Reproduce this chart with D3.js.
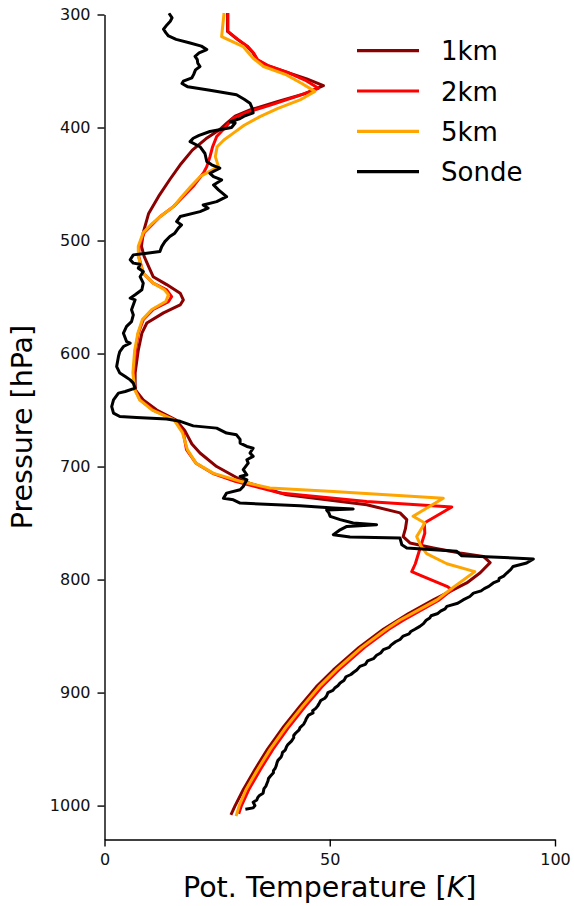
<!DOCTYPE html>
<html>
<head>
<meta charset="utf-8">
<script src="https://cdn.jsdelivr.net/npm/d3@7"></script>
<style>
  body { margin: 0; background: #fff; }
  svg { display: block; font-family: "DejaVu Sans", sans-serif; }
</style>
</head>
<body>
<svg id="chart" width="574" height="906"></svg>
<script>
// Profiles: [pressure (hPa), potential temperature]
const profile1km = [
  [300,27.3],[315,27.3],[322,29.5],[328,31.6],[334,33.0],[340,33.8],[345,36.0],[351,40.4],[357,44.9],[363,48.6],
  [370,44.5],[377,38.5],[384.5,32.3],[390,29.0],[396,27.2],[402,25.5],[410,22.5],[420,19.5],[432,17.0],[446,14.5],
  [461,12.0],[476,9.8],[493,8.6],[505,8.2],[514,8.8],[523,9.8],[532,10.8],[539,13.8],[546.6,16.8],[552.5,17.5],
  [557,16.8],[564,13.1],[573,9.4],[582,8.3],[597,7.5],[617,6.8],[632,6.8],[641,8.6],[650,11.6],[658.6,15.8],
  [668,17.8],[680,19.4],[688,21.2],[700,24.9],[713,30.8],[725,40.4],[733.8,58.2],[741,65.6],[747,67.1],[755,66.8],
  [762,66.3],[767.6,67.8],[772,73.0],[776.5,78.9],[779.5,84.1],[785,85.6],[794,83.4],[803,80.4],[818,73.0],[830,67.5],
  [844,61.9],[860,56.5],[880,50.8],[895,47.0],[912,43.4],[930,39.8],[950,36.2],[968,33.4],[986,30.8],[1000,29.0],[1007,28.2]
];

const profile2km = [
  [300,27.4],[315,27.4],[322,29.6],[328,31.7],[334,33.1],[340,34.0],[345,36.2],[351,40.5],[358,44.5],[365.3,47.5],
  [372,43.0],[380,37.0],[386,32.0],[392,28.5],[400,26.8],[408,24.9],[417,24.0],[426,23.4],[434.6,22.7],[440,22.0],
  [452,19.7],[470,15.3],[479,12.3],[493,8.8],[505,7.7],[514,7.6],[529,8.6],[537.7,10.8],[543.6,13.8],[549.6,14.9],
  [554,14.2],[561,10.8],[570,8.6],[582,7.5],[597,6.9],[617,6.5],[632,6.8],[641,7.9],[650,10.8],[658.6,15.6],
  [670,17.5],[685,18.2],[697,20.3],[706,24.0],[713,29.0],[723.5,39.0],[731,58.2],[735.8,77.1],[750,71.0],[759,71.1],
  [773,70.0],[786,69.0],[793,68.2],[796,70.0],[806,76.0],[809,77.1],[818,74.3],[836,66.3],[844,63.1],[860,57.7],
  [880,52.0],[895,48.2],[912,44.6],[930,41.0],[950,37.4],[968,34.6],[986,32.0],[1000,30.4],[1006,29.9]
];

const profile5km = [
  [300,26.5],[319.6,26.0],[328.5,30.8],[338.7,33.0],[346,35.3],[353.5,40.4],[361,43.8],[368,46.7],[375.6,43.4],[383,38.5],
  [390.4,34.5],[398,31.0],[405,28.6],[411,26.5],[417,25.0],[425.8,24.6],[434.6,25.3],[443.5,21.2],[452,19.2],[462,17.0],
  [470,15.3],[479,12.3],[486,10.3],[493,8.6],[505,7.5],[514,7.5],[529,8.6],[537.7,10.8],[543.6,13.3],[548,14.2],
  [554,13.6],[561,10.5],[570,8.4],[582,7.4],[597,6.7],[617,6.3],[632,6.7],[641,7.8],[650,10.6],[658.6,15.4],
  [670,17.3],[685,18.4],[697,20.3],[706,24.2],[713,30.1],[719,36.7],[722,50.8],[728,75.2],[744,68.5],[750,71.1],
  [762,69.3],[770,70.2],[777,71.5],[786,76.0],[793,82.2],[809,76.7],[818,73.8],[836,65.5],[844,62.5],[860,57.1],
  [880,51.4],[895,47.6],[912,44.0],[930,40.4],[950,36.8],[968,34.0],[986,31.4],[1000,29.9],[1008,29.3]
];

const profileSonde = [
  [300,14.5],[303,15.0],[306,14.6],[309,13.9],[313,13.1],[316,13.6],[319,14.2],[322,15.9],[325,18.8],[328,21.5],
  [331,22.7],[334,21.0],[337,20.1],[340,20.6],[343,20.7],[346,21.2],[349,20.2],[353,19.8],[356,19.4],[359,17.5],
  [361,17.2],[364,18.5],[367,23.4],[371,29.3],[375,31.0],[378.5,32.3],[383,32.8],[387,33.0],[390,31.0],[392,30.1],
  [395,27.9],[396,29.0],[400,28.2],[403.5,23.4],[407,21.0],[409.5,19.7],[412.5,19.0],[417,21.2],[423,22.3],[430,22.7],
  [433,23.8],[436,25.6],[440.5,23.4],[443.5,24.2],[446.4,26.0],[450.8,24.2],[455.2,25.3],[461.2,27.1],[465.6,24.9],[468.5,21.9],
  [471.4,23.0],[474.4,21.2],[478.8,16.8],[483.2,16.0],[486.2,17.1],[489,16.4],[493.5,15.6],[496.5,14.5],[501,13.4],[505.4,12.7],
  [509.8,12.3],[511.2,9.4],[512.7,6.4],[517,5.7],[520,6.4],[521,7.9],[524.5,7.5],[527.5,8.6],[532,7.9],[537.7,8.6],
  [543.6,8.3],[548,6.8],[551,5.7],[552.5,6.8],[561.3,6.0],[565.8,6.4],[571.7,6.0],[576,4.9],[582,4.2],[589.4,4.9],
  [590.8,5.7],[593.8,4.2],[598.2,3.4],[602.6,3.1],[611.5,2.7],[617.3,3.4],[620.3,4.6],[623.3,5.7],[626.2,6.4],[630.6,6.8],
  [633.6,4.6],[635,3.1],[641,2.0],[646.9,1.6],[652.7,2.0],[655.7,3.4],[656.6,7.1],[658,13.8],[660,16.8],[664,19.7],
  [666,24.9],[670.4,27.1],[671.9,29.3],[676,30.1],[679.2,30.1],[682.2,31.6],[683.7,33.0],[688,32.3],[691,33.0],[694,31.6],
  [697,31.9],[702.8,30.8],[707.3,31.6],[708.8,30.1],[711.7,31.6],[717.6,30.8],[720.5,30.1],[723.5,27.1],[728,26.4],[729.4,28.6],
  [732.3,30.1],[734.7,43.4],[736.7,50.8],[737.6,55.2],[738.5,49.3],[741,49.8],[744.1,50.1],[747,52.3],[750,55.2],[751.5,60.4],
  [753,53.8],[756,52.3],[760.3,50.8],[762.4,54.5],[763.3,65.6],[769.2,66.0],[772,67.1],[775,78.2],[779,79.3],[779.5,83.4],
  [781.8,95.2],[785.4,93.7],[788.4,90.7],[791,90.2],[794.2,89.3],[797,88.6],[799,87.6],[801,87.5],[803,86.3],[806,85.3],
  [808,84.3],[810,83.6],[812,81.9],[815,81.1],[818,79.6],[821,78.4],[823.7,76.0],[826,75.6],[828,74.6],[830,74.0],
  [832,72.5],[834,72.2],[836,71.4],[839,70.8],[841.4,70.0],[844,68.9],[846,68.0],[848,67.6],[850,66.3],[853,65.6],
  [855,64.6],[858,63.6],[860,63.2],[862,61.9],[865,61.3],[867,60.4],[870,59.7],[872,58.4],[875,57.9],[876.8,56.7],
  [880,56.0],[882,55.3],[884,54.7],[886,53.6],[889,53.2],[891.5,52.3],[894,51.8],[896,51.1],[898,50.7],[900,49.6],
  [903,49.3],[905,48.9],[907,48.0],[910,47.6],[912,47.3],[914,46.9],[916,46.2],[918,46.3],[920,45.3],[923,44.8],
  [925,44.6],[928,44.2],[931,43.4],[933,43.2],[936,42.4],[938,42.0],[940,42.0],[943,41.5],[946,40.7],[948,40.4],
  [951,40.1],[953,39.5],[955,39.4],[957,39.2],[960,38.5],[962,38.3],[965,38.1],[967,37.9],[969,37.5],[971,37.5],
  [974,36.8],[976,36.4],[978,36.3],[980,36.1],[983,35.8],[985,35.4],[987,35.3],[989,35.2],[991,34.4],[993,34.0],
  [995,33.8],[997,33.0],[1000,33.4],[1002,33.0],[1003,31.6]
];

const seriesNames = ["1km", "2km", "5km", "Sonde"];
const pressureTicks = [300, 400, 500, 600, 700, 800, 900, 1000];
const thetaTicks = [0, 50, 100];

// Styling
const seriesColors = ["#8b0000", "#ff0000", "#ffa500", "#000000"];
const profiles = [profile1km, profile2km, profile5km, profileSonde];

const svg = d3.select("#chart");
const plotLeft = 104.5, plotRight = 555, plotTop = 14.5, plotBottom = 839.5;

const x = d3.scaleLinear().domain([0, 100]).range([plotLeft, plotRight]);
const y = d3.scaleLinear().domain([300, 1030]).range([plotTop, plotBottom]);

svg.append("defs").append("clipPath").attr("id", "plot-clip")
  .append("rect").attr("x", plotLeft).attr("y", plotTop - 2)
  .attr("width", plotRight - plotLeft + 10).attr("height", plotBottom - plotTop + 2);

const line = d3.line().x(d => x(d[1])).y(d => y(d[0]));

const plot = svg.append("g").attr("clip-path", "url(#plot-clip)");
profiles.forEach((data, i) => {
  plot.append("path")
    .datum(data)
    .attr("fill", "none")
    .attr("stroke", seriesColors[i])
    .attr("stroke-width", 3)
    .attr("stroke-linejoin", "round")
    .attr("stroke-linecap", "square")
    .attr("d", line);
});

// Axes
const yAxis = d3.axisLeft(y).tickValues(pressureTicks).tickFormat(d3.format("d"))
  .tickSize(7).tickSizeOuter(0).tickPadding(7);
const xAxis = d3.axisBottom(x).tickValues(thetaTicks).tickFormat(d3.format("d"))
  .tickSize(7).tickSizeOuter(0).tickPadding(7);

const gy = svg.append("g").attr("transform", `translate(${plotLeft},0)`).call(yAxis);
const gx = svg.append("g").attr("transform", `translate(0,${plotBottom})`).call(xAxis);

[gx, gy].forEach(g => {
  g.select(".domain").attr("stroke", "#000").attr("stroke-width", 1.4);
  g.selectAll(".tick line").attr("stroke", "#000").attr("stroke-width", 1.4);
  g.selectAll(".tick text").attr("fill", "#111").style("font-size", "16px")
    .style("font-family", "'DejaVu Sans', sans-serif");
});

// Axis titles
svg.append("text")
  .attr("transform", `translate(32,${(plotTop + plotBottom) / 2}) rotate(-90)`)
  .attr("text-anchor", "middle")
  .style("font-size", "28.5px")
  .attr("fill", "#000")
  .text("Pressure [hPa]");

const xt = svg.append("text")
  .attr("x", (plotLeft + plotRight) / 2).attr("y", 897)
  .attr("text-anchor", "middle")
  .style("font-size", "28.5px")
  .attr("fill", "#000");
xt.append("tspan").text("Pot. Temperature [");
xt.append("tspan").style("font-style", "italic").text("K");
xt.append("tspan").text("]");

// Legend
const legend = svg.append("g");
seriesNames.forEach((name, i) => {
  const ly = 50.7 + i * 40.3;
  legend.append("line")
    .attr("x1", 357).attr("x2", 419).attr("y1", ly).attr("y2", ly)
    .attr("stroke", seriesColors[i]).attr("stroke-width", 3.2);
  legend.append("text")
    .attr("x", 441).attr("y", ly + 9.5)
    .style("font-size", "26px").attr("fill", "#000")
    .text(name);
});
</script>
</body>
</html>
